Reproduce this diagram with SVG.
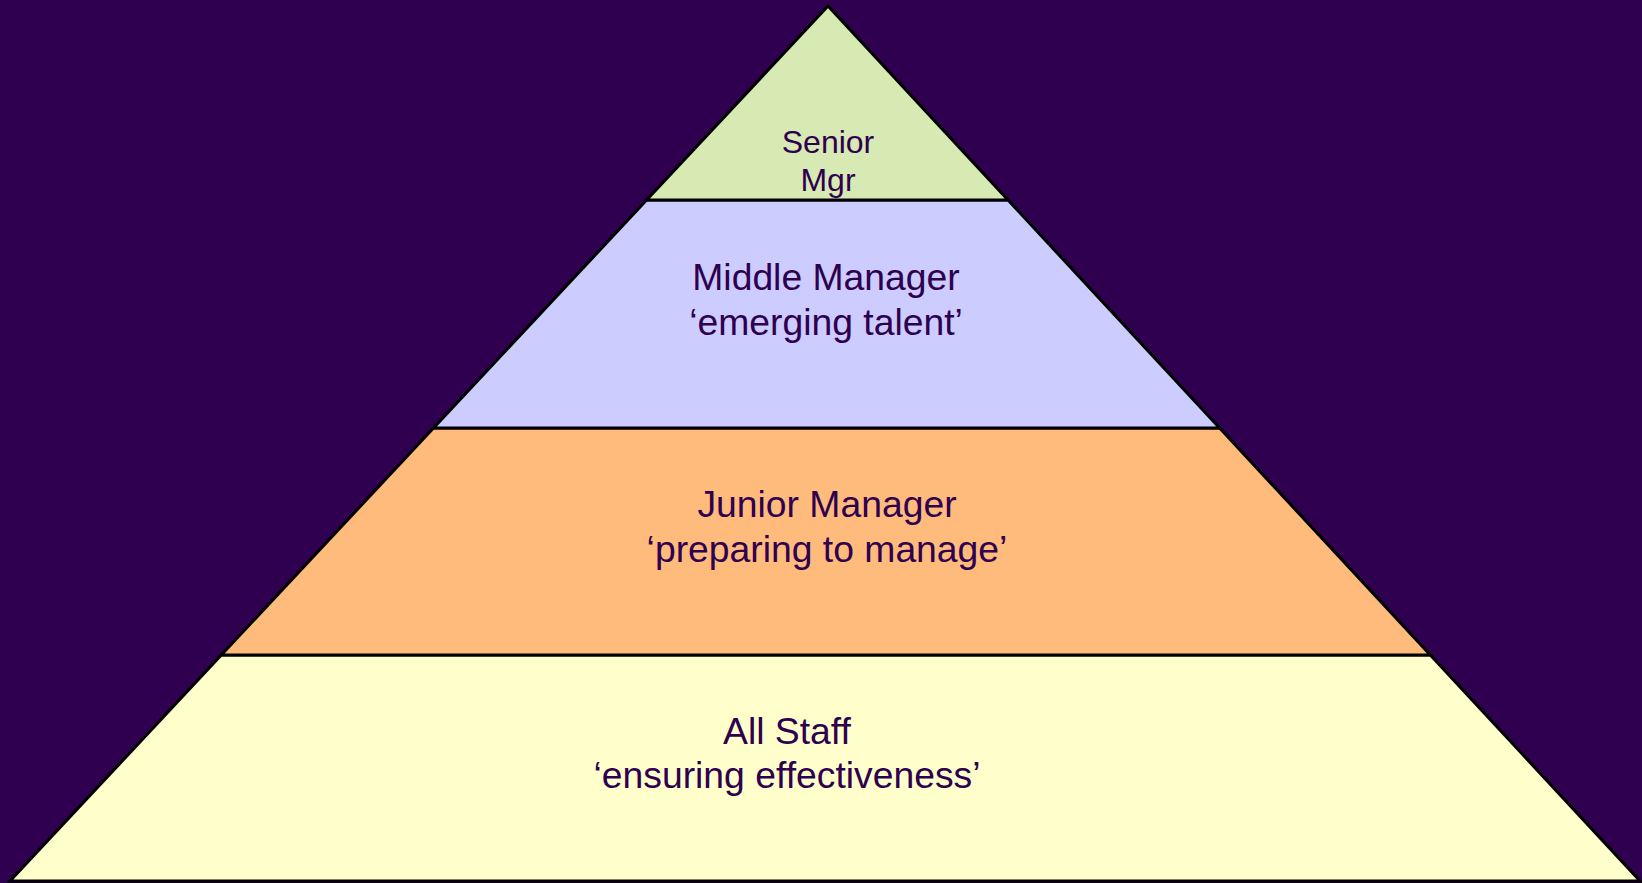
<svg xmlns="http://www.w3.org/2000/svg" width="1642" height="883" viewBox="0 0 1642 883">
<style>
.layer{stroke:#000000;stroke-width:3;stroke-linejoin:miter}
.lbl{font-family:"Liberation Sans",Arial,sans-serif;fill:#2E004F;text-anchor:middle}
.big{font-size:37.3px}
.small{font-size:32px}
</style>
<rect x="0" y="0" width="1642" height="883" fill="#2E004F"/>
<g id="all-staff">
<polygon class="layer" fill="#FFFFCC" points="221.3,655 1430.3,655 1640,881 10,881"/>
<text class="lbl big" x="787" y="744">All Staff</text>
<text class="lbl big" x="787" y="788">‘ensuring effectiveness’</text>
</g>
<g id="junior-manager">
<polygon class="layer" fill="#FFBB7C" points="433.5,428 1219.6,428 1430.3,655 221.3,655"/>
<text class="lbl big" x="827" y="517">Junior Manager</text>
<text class="lbl big" x="827" y="562">‘preparing to manage’</text>
</g>
<g id="middle-manager">
<polygon class="layer" fill="#CCCCFF" points="646.6,200 1008,200 1219.6,428 433.5,428"/>
<text class="lbl big" x="826" y="290">Middle Manager</text>
<text class="lbl big" x="826" y="335">‘emerging talent’</text>
</g>
<g id="senior-mgr">
<polygon class="layer" fill="#D7EAB4" points="828,6 1008,200 646.6,200"/>
<text class="lbl small" x="828" y="153">Senior</text>
<text class="lbl small" x="828" y="191">Mgr</text>
</g>
<g id="connectors"/>
</svg>
